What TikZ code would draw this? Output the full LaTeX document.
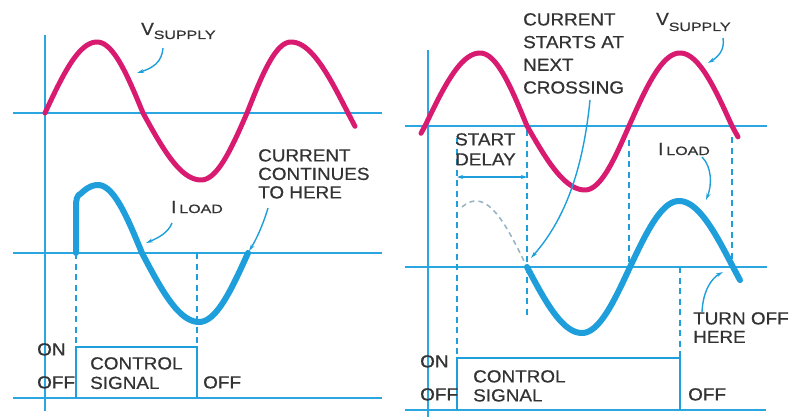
\documentclass[tikz,border=0pt]{standalone}
\usepackage{fontspec}
\setmainfont{Liberation Sans}
\newfontfamily\lab[FakeStretch=1.08,FakeBold=0.7]{Liberation Sans}
\newfontfamily\subf[FakeStretch=1.33,FakeBold=0.7]{Liberation Sans}
\usetikzlibrary{arrows.meta}
\definecolor{vpink}{HTML}{D81B70}
\definecolor{iblue}{HTML}{1E9FDB}
\definecolor{axblue}{HTML}{2AA6E0}
\definecolor{ghost}{HTML}{9AB4C4}
\definecolor{txt}{HTML}{333333}
\newcommand{\fsz}[2]{\lab\fontsize{#1}{#2}\selectfont}
\tikzset{
  axis/.style={axblue, line width=2.6pt},
  vwave/.style={vpink, line width=5pt, line cap=round, line join=round},
  iwave/.style={iblue, line width=6pt, line cap=round, line join=round},
  ghostwave/.style={ghost, line width=1.6pt, dash pattern=on 5pt off 4pt},
  guide/.style={iblue, line width=2pt, dash pattern=on 6pt off 4.5pt},
  ctrl/.style={iblue, line width=2.2pt},
  leader/.style={iblue, line width=1.4pt, -{Stealth[length=7pt,width=4pt]}},
  lbl/.style={inner sep=0pt, anchor=north west, align=left, text=txt},
  sym/.style={inner sep=0pt, anchor=base west, text=txt, font=\fsz{17.5}{18}},
}
\begin{document}
\begin{tikzpicture}[x=1pt,y=-1pt]
\useasboundingbox (0,0) rectangle (789,417);
% ---------- left panel axes ----------
\draw[axis] (45,35) -- (45,411);
\draw[axis] (13,113) -- (382,113);
\draw[axis] (13,253) -- (382,253);
\draw[axis] (13,398) -- (382,398);
% guides and control box
\draw[guide] (76,253) -- (76,347);
\draw[guide] (197,253) -- (197,347);
\draw[ctrl] (76,398) -- (76,347) -- (197,347) -- (197,398);
% supply voltage
\draw[vwave] plot[domain=45:97] (\x,{113-71*sin(90*(\x-45)/52)})
 -- plot[domain=97:143] (\x,{113-71*cos(90*(\x-97)/46)})
 -- plot[domain=143:201] (\x,{113+67*sin(90*(\x-143)/58)})
 -- plot[domain=201:247] (\x,{113+67*cos(90*(\x-201)/46)})
 -- plot[domain=247:291] (\x,{113-71*sin(90*(\x-247)/44)})
 -- plot[domain=291:348] (\x,{113-71*cos(90*(\x-291)/57)})
 -- plot[domain=348:355] (\x,{113+67*sin(90*(\x-348)/55)});
% load current
\draw[iwave] (76,253) -- (76,207) .. controls (76,199) and (77,196) .. (80,194)
 -- plot[domain=80:98] (\x,{253-68*sin(90*(\x-45)/53)})
 -- plot[domain=98:142] (\x,{253-68*cos(90*(\x-98)/44)})
 -- plot[domain=142:199] (\x,{253+69*sin(90*(\x-142)/57)})
 -- plot[domain=199:248] (\x,{253+69*cos(90*(\x-199)/49)});
% labels
\node[sym] (vsL) at (141,35) {V\raisebox{-4pt}{\subf\fontsize{12}{12}\selectfont SUPPLY}};
\node[sym] (ilL) at (171,213) {I\,{\subf\fontsize{12}{12}\selectfont LOAD}};
\node[lbl, font=\fsz{17.5}{18.5}] (ccL) at (258,149) {CURRENT\\CONTINUES\\TO HERE};
\node[lbl, font=\fsz{17.5}{18}] (onL) at (37,343) {ON};
\node[lbl, font=\fsz{17.5}{18}] (offL) at (37,376) {OFF};
\node[lbl, font=\fsz{17.5}{19.5}] (csL) at (90,357) {CONTROL\\SIGNAL};
\node[lbl, font=\fsz{17.5}{18}] (off2L) at (203,376) {OFF};
% leaders
\coordinate (a1) at (163,48);  \coordinate (b1) at (137,73);
\coordinate (a2) at (172,223); \coordinate (b2) at (146,243);
\coordinate (a3) at (268,208); \coordinate (b3) at (249,251);
\draw[leader] (a1) .. controls (162,62) and (153,68) .. (b1);
\draw[leader] (a2) .. controls (168,233) and (158,238) .. (b2);
\draw[leader] (a3) .. controls (263,225) and (256,240) .. (b3);
% ---------- right panel axes ----------
\draw[axis] (428,50) -- (428,417);
\draw[axis] (405,126) -- (767,126);
\draw[axis] (405,267) -- (767,267);
\draw[axis] (405,410) -- (766,410);
% guides and control box
\draw[guide] (457,138) -- (457,358);
\draw[guide] (527,130) -- (527,315);
\draw[guide] (629,140) -- (629,267);
\draw[guide] (732,137) -- (732,267);
\draw[guide] (680,267) -- (680,358);
\draw[ctrl] (457,410) -- (457,358) -- (680,358) -- (680,410);
% start delay dimension
\coordinate (d1) at (457,177); \coordinate (d2) at (527,177);
\draw[iblue, line width=1.3pt, {Stealth[length=6pt,width=4pt]}-{Stealth[length=6pt,width=4pt]}] (d1) -- (d2);
% ghost current
\draw[ghostwave] plot[domain=462:476] (\x,{267-66*sin(90*(\x-425)/51)})
 -- plot[domain=476:525] (\x,{267-66*cos(90*(\x-476)/51)});
% supply voltage
\draw[vwave] plot[domain=421:425] (\x,{126+64*sin(90*(425-\x)/55)})
 -- plot[domain=425:480] (\x,{126-73*sin(90*(\x-425)/55)})
 -- plot[domain=480:527] (\x,{126-73*cos(90*(\x-480)/47)})
 -- plot[domain=527:585] (\x,{126+64*sin(90*(\x-527)/58)})
 -- plot[domain=585:629] (\x,{126+64*cos(90*(\x-585)/44)})
 -- plot[domain=629:680] (\x,{126-73*sin(90*(\x-629)/51)})
 -- plot[domain=680:732] (\x,{126-73*cos(90*(\x-680)/52)})
 -- plot[domain=732:738] (\x,{126+64*sin(90*(\x-732)/55)});
% load current
\draw[iwave] plot[domain=527:582] (\x,{267+66*sin(90*(\x-527)/55)})
 -- plot[domain=582:630] (\x,{267+66*cos(90*(\x-582)/48)})
 -- plot[domain=630:679] (\x,{267-66*sin(90*(\x-630)/49)})
 -- plot[domain=679:733] (\x,{267-66*cos(90*(\x-679)/54)})
 -- plot[domain=733:740] (\x,{267+66*sin(90*(\x-733)/55)});
% labels
\node[lbl, font=\fsz{17.5}{22.7}] (csR) at (523,13) {CURRENT\\STARTS AT\\NEXT\\CROSSING};
\node[sym] (vsR) at (656,25) {V\raisebox{-6pt}{\subf\fontsize{12}{12}\selectfont SUPPLY}};
\node[lbl, font=\fsz{17.5}{20}] (sdR) at (455,133) {START\\DELAY};
\node[sym] (ilR) at (658,155) {I\,{\subf\fontsize{12}{12}\selectfont LOAD}};
\node[lbl, font=\fsz{17.5}{18.5}] (toR) at (693,312) {TURN OFF\\HERE};
\node[lbl, font=\fsz{17.5}{18}] (onR) at (420,355) {ON};
\node[lbl, font=\fsz{17.5}{18}] (offR) at (420,388) {OFF};
\node[lbl, font=\fsz{17.5}{19}] (ctR) at (473,370) {CONTROL\\SIGNAL};
\node[lbl, font=\fsz{17.5}{18}] (off2R) at (688,388) {OFF};
% leaders
\coordinate (a4) at (590,100); \coordinate (b4) at (531,258);
\coordinate (a5) at (723,38);  \coordinate (b5) at (708,63);
\coordinate (a6) at (702,157); \coordinate (b6) at (706,200);
\coordinate (a7) at (702,312); \coordinate (b7) at (723,272);
\draw[leader] (a4) .. controls (582,180) and (560,225) .. (b4);
\draw[leader] (a5) .. controls (725,50) and (718,57) .. (b5);
\draw[leader] (a6) .. controls (712,167) and (712,185) .. (b6);
\draw[leader] (a7) .. controls (703,290) and (712,278) .. (b7);
\end{tikzpicture}
\end{document}
